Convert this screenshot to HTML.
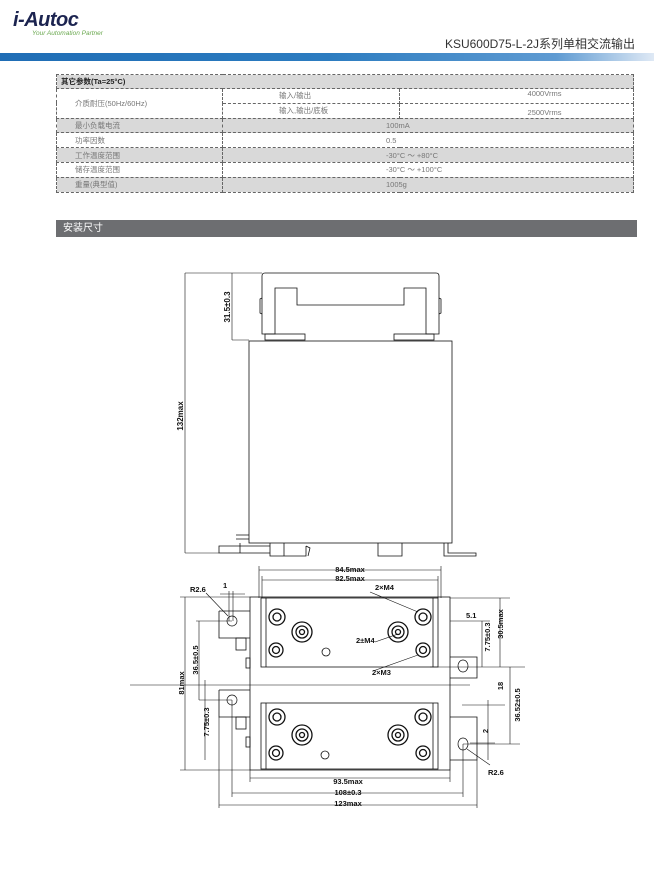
<!DOCTYPE html>
<html><head><meta charset="utf-8"><style>
*{margin:0;padding:0;box-sizing:border-box}
body{width:654px;height:875px;background:#fff;position:relative;overflow:hidden;font-family:"Liberation Sans","Noto Sans CJK SC",sans-serif}
.abs{position:absolute}
table{position:absolute;left:56px;top:74px;width:578px;border-collapse:collapse;font-size:7.5px;color:#777}
td{border:1px dashed #666;height:14.8px;padding:0 4px;line-height:13px}
.g td{background:#d9d9d9}
.c{text-align:center}
</style></head><body>
<div class="abs" style="left:13px;top:9px;font:italic bold 20px 'Liberation Sans',sans-serif;color:#1c2450;letter-spacing:-0.5px">i-Autoc</div>
<div class="abs" style="left:32px;top:30px;font:italic 6.5px 'Liberation Sans',sans-serif;color:#6aa84f">Your Automation Partner</div>
<div class="abs" style="right:19px;top:37px;font-size:12px;line-height:14px;color:#333;font-family:'Liberation Sans','Noto Sans CJK SC',sans-serif;white-space:nowrap">KSU600D75-L-2J系列单相交流输出</div>
<div class="abs" style="left:0;top:53px;width:654px;height:8px;background:linear-gradient(90deg,#1f6db5 0%,#2c7cc0 50%,#5f9bd2 85%,#dfe9f5 100%)"></div>
<table>
<tr class="g"><td colspan="3" style="color:#222;font-weight:bold;height:14px">其它参数(Ta=25°C)</td></tr>
<tr><td rowspan="2" style="width:166px;padding-left:18px">介质耐压(50Hz/60Hz)</td><td style="width:177px;padding-left:56px;height:14px">输入/输出</td><td class="c" style="padding-left:60px;vertical-align:top;line-height:10px">4000Vrms</td></tr>
<tr><td style="padding-left:56px;height:14px">输入,输出/底板</td><td class="c" style="padding-left:60px;vertical-align:bottom;line-height:10px">2500Vrms</td></tr>
<tr class="g"><td style="padding-left:18px">最小负载电流</td><td colspan="2" style="padding-left:163px">100mA</td></tr>
<tr><td style="padding-left:18px">功率因数</td><td colspan="2" style="padding-left:163px">0.5</td></tr>
<tr class="g"><td style="padding-left:18px">工作温度范围</td><td colspan="2" style="padding-left:163px">-30°C ～ +80°C</td></tr>
<tr><td style="padding-left:18px">储存温度范围</td><td colspan="2" style="padding-left:163px">-30°C ～ +100°C</td></tr>
<tr class="g"><td style="padding-left:18px">重量(典型值)</td><td colspan="2" style="padding-left:163px">1005g</td></tr>
</table>
<div class="abs" style="left:56px;top:220px;width:581px;height:17px;background:#6d6e71;color:#fff;font-size:10px;line-height:17px;padding-left:7px">安装尺寸</div>

<svg class="abs" style="left:0;top:0" width="654" height="875" viewBox="0 0 654 875" fill="none" stroke="#111" stroke-width="0.8" font-family="Liberation Sans,sans-serif" font-weight="bold">
<!-- side view -->
<path d="M262 276 Q262 273 265 273 L436 273 Q439 273 439 276 L439 334 L426 334 L426 288 L404 288 L404 305 L297 305 L297 288 L275 288 L275 334 L262 334 Z"/>
<path d="M262 298 L260 299 L260 313 L262 314 M439 298 L441 299 L441 313 L439 314"/>
<rect x="265" y="334" width="40" height="6"/><rect x="394" y="334" width="40" height="6"/>
<rect x="249" y="341" width="203" height="202"/>
<path d="M219 553 L270 553 L270 546 L219 546 Z M240 543 L240 553 M270 543 L270 556 L306 556 L306 546 M284 543 L284 556 M306 546 L310 548 L308 556"/>
<path d="M378 543 L378 556 L402 556 L402 543 M444 543 L444 556 L476 556 L476 553 L448 553 L448 543 M236 535 L249 535 M236 539 L249 539"/>
<path d="M185 273 L262 273 M185 553 L219 553 M185 273 L185 553 M232 340 L249 340 M232 273 L232 340" stroke-width="0.6"/>
<text x="0" y="0" transform="translate(183,416) rotate(-90)" font-size="8" fill="#111" stroke="none" text-anchor="middle">132max</text>
<text transform="translate(230,307) rotate(-90)" font-size="8" fill="#111" stroke="none" text-anchor="middle">31.5±0.3</text>
<!-- bottom view -->
<rect x="250" y="597" width="200" height="173"/>
<rect x="261" y="598" width="177" height="69"/>
<rect x="261" y="703" width="177" height="66"/>
<line x1="266" y1="598" x2="266" y2="667"/><line x1="433" y1="598" x2="433" y2="667"/>
<line x1="266" y1="703" x2="266" y2="769"/><line x1="433" y1="703" x2="433" y2="769"/>
<path d="M219 611 L250 611 M219 611 L219 638 L250 638 M219 690 L250 690 M219 690 L219 717 L250 717 M450 657 L477 657 L477 678 L450 678 M450 717 L477 717 L477 760 L450 760"/>
<rect x="236" y="638" width="10" height="12"/><rect x="236" y="717" width="10" height="12"/><rect x="246" y="658" width="4" height="10"/><rect x="246" y="737" width="4" height="10"/>
<g stroke-width="0.7">
<circle cx="232" cy="621" r="5"/><circle cx="232" cy="700" r="5"/><ellipse cx="463" cy="666" rx="5" ry="6"/><ellipse cx="463" cy="744" rx="5" ry="6"/>
</g>
<g stroke-width="1.3">
<circle cx="277" cy="617" r="8"/><circle cx="277" cy="617" r="4"/>
<circle cx="302" cy="632" r="10"/><circle cx="302" cy="632" r="6"/><circle cx="302" cy="632" r="2.5"/>
<circle cx="276" cy="650" r="7"/><circle cx="276" cy="650" r="3.5"/>
<circle cx="423" cy="617" r="8"/><circle cx="423" cy="617" r="4"/>
<circle cx="398" cy="632" r="10"/><circle cx="398" cy="632" r="6"/><circle cx="398" cy="632" r="2.5"/>
<circle cx="423" cy="650" r="7"/><circle cx="423" cy="650" r="3.5"/>
<circle cx="277" cy="717" r="8"/><circle cx="277" cy="717" r="4"/>
<circle cx="302" cy="735" r="10"/><circle cx="302" cy="735" r="6"/><circle cx="302" cy="735" r="2.5"/>
<circle cx="276" cy="753" r="7"/><circle cx="276" cy="753" r="3.5"/>
<circle cx="423" cy="717" r="8"/><circle cx="423" cy="717" r="4"/>
<circle cx="398" cy="735" r="10"/><circle cx="398" cy="735" r="6"/><circle cx="398" cy="735" r="2.5"/>
<circle cx="423" cy="753" r="7"/><circle cx="423" cy="753" r="3.5"/>
</g>
<circle cx="326" cy="652" r="4"/><circle cx="325" cy="755" r="4"/>
<g stroke-width="0.6">
<path d="M259 566 L259 598 M441 566 L441 598 M259 570 L441 570 M262 580 L438 580 M262 576 L262 598 M438 576 L438 598"/>
<path d="M180 597 L250 597 M180 770 L250 770 M185 597 L185 770 M196 621 L232 621 M199 621 L199 700 M199 700 L232 700 M205 680 L205 760 M130 685 L470 685"/>
<path d="M450 598 L510 598 M500 598 L500 667 M461 667 L510 667 M450 621 L490 621 M482 621 L482 667 M430 667 L525 667 M462 705 L505 705 M510 667 L510 744 M463 744 L520 744 M488 700 L488 760 M470 743 L495 743"/>
<path d="M250 770 L250 782 M450 770 L450 782 M250 778 L450 778 M232 700 L232 797 M463 744 L463 797 M232 793 L463 793 M219 717 L219 808 M477 760 L477 808 M219 805 L477 805"/>
<path d="M229 591 L229 621 M233 591 L233 621 M220 594 L245 594"/>
<path d="M206 593 L228 616 M370 592 L418 612 M375 642 L398 634 M373 671 L418 655 M490 765 L467 749"/>
</g>
<g fill="#111" stroke="none" font-size="7.5">
<text x="350" y="572" text-anchor="middle">84.5max</text>
<text x="350" y="581" text-anchor="middle">82.5max</text>
<text x="190" y="592">R2.6</text>
<text x="223" y="588">1</text>
<text x="375" y="590">2×M4</text>
<text x="356" y="643">2±M4</text>
<text x="372" y="675">2×M3</text>
<text x="466" y="618">5.1</text>
<text x="348" y="784" text-anchor="middle">93.5max</text>
<text x="348" y="795" text-anchor="middle">108±0.3</text>
<text x="348" y="806" text-anchor="middle">123max</text>
<text x="488" y="775">R2.6</text>
<text transform="translate(184,683) rotate(-90)" text-anchor="middle">81max</text>
<text transform="translate(198,660) rotate(-90)" text-anchor="middle">36.5±0.5</text>
<text transform="translate(209,722) rotate(-90)" text-anchor="middle">7.75±0.3</text>
<text transform="translate(490,637) rotate(-90)" text-anchor="middle">7.75±0.3</text>
<text transform="translate(503,624) rotate(-90)" text-anchor="middle">30.5max</text>
<text transform="translate(503,686) rotate(-90)" text-anchor="middle">18</text>
<text transform="translate(520,705) rotate(-90)" text-anchor="middle">36.52±0.5</text>
<text transform="translate(488,731) rotate(-90)" text-anchor="middle">2</text>
</g>
</svg>
</body></html>
